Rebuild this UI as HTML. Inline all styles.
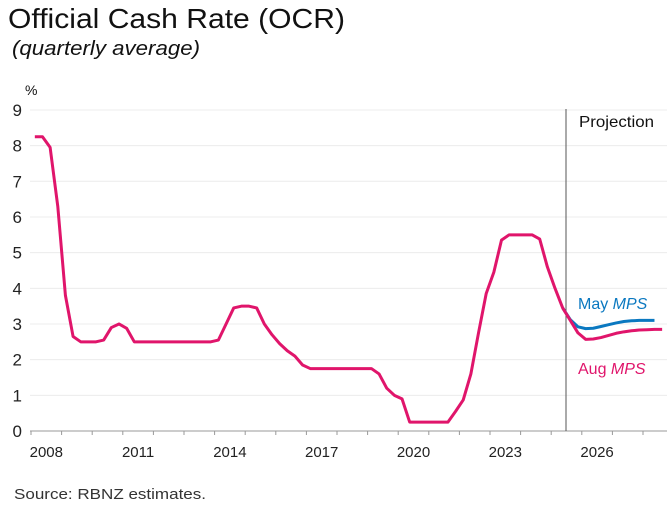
<!DOCTYPE html>
<html><head><meta charset="utf-8"><style>
body{margin:0;background:#fff;font-family:"Liberation Sans",sans-serif;}
</style></head><body>
<svg width="672" height="515" viewBox="0 0 672 515" xmlns="http://www.w3.org/2000/svg">
<text x="8" y="28" font-size="28" fill="#111" textLength="337" lengthAdjust="spacingAndGlyphs">Official Cash Rate (OCR)</text>
<text x="12" y="55" font-size="20" font-style="italic" fill="#111" textLength="188" lengthAdjust="spacingAndGlyphs">(quarterly average)</text>
<text x="25" y="95" font-size="14" fill="#111">%</text>
<g id="grid"></g><g id="xaxis"></g>
<line x1="566" y1="109" x2="566" y2="431" stroke="#555" stroke-width="1"/>
<text x="579" y="127" font-size="16" fill="#111" textLength="75" lengthAdjust="spacingAndGlyphs">Projection</text>
<g id="series"></g>
<text x="578" y="309" font-size="16" fill="#0a78c0">May <tspan font-style="italic">MPS</tspan></text>
<text x="578" y="374" font-size="16" fill="#e0156b">Aug <tspan font-style="italic">MPS</tspan></text>
<text x="14" y="499" font-size="15" fill="#333" textLength="192" lengthAdjust="spacingAndGlyphs">Source: RBNZ estimates.</text>
</svg>
<script>
const yTicks=[0,1,2,3,4,5,6,7,8,9];
const xLabels=[2008,2011,2014,2017,2020,2023,2026];
const augValues=[8.25,8.25,7.95,6.3, 3.8,2.65,2.5,2.5, 2.5,2.55,2.9,3.0, 2.88,2.5,2.5,2.5, 2.5,2.5,2.5,2.5, 2.5,2.5,2.5,2.5, 2.55,3.0,3.45,3.5, 3.5,3.45,3.0,2.7, 2.45,2.25,2.1,1.85, 1.75,1.75,1.75,1.75, 1.75,1.75,1.75,1.75, 1.75,1.6,1.2,1.0, 0.9,0.25,0.25,0.25, 0.25,0.25,0.25,0.55, 0.87,1.6,2.75,3.85, 4.45,5.35,5.5,5.5, 5.5,5.5,5.38,4.6, 4.0,3.45,3.1,2.75, 2.57,2.58,2.62,2.68, 2.74,2.78,2.81,2.83, 2.84,2.85,2.85];
const mayStart=69;
const mayValues=[3.45,3.12,2.92,2.87,2.88,2.93,2.98,3.03,3.07,3.09,3.1,3.1,3.1];
const NS="http://www.w3.org/2000/svg";
function yS(v){return 431-v*35.67;}
function xYear(y){return 31+(y-2008)*30.6;}
function xQ(q){return 31+(q+0.5)*30.6/4;}
function mk(t,a,p){const e=document.createElementNS(NS,t);for(const k in a)e.setAttribute(k,a[k]);p.appendChild(e);return e;}
const grid=document.getElementById('grid'),xa=document.getElementById('xaxis'),se=document.getElementById('series');
yTicks.forEach(v=>{
 if(v>0){const l=mk('line',{x1:30,x2:667,y1:yS(v),y2:yS(v),stroke:'#ececec','stroke-width':1},grid);
 
 }
 const t=mk('text',{x:22,y:yS(v)+6,'font-size':17,'text-anchor':'end',fill:'#222'},grid);
 t.textContent=v;
 
 
});
const ax=mk('line',{x1:30,x2:667,y1:431,y2:431,stroke:'#999','stroke-width':1},xa);


for(let y=2008;y<=2028;y++){const tk=mk('line',{x1:xYear(y),x2:xYear(y),y1:431,y2:435,stroke:'#999','stroke-width':1},xa);
 
 }
xLabels.forEach(y=>{const t=mk('text',{x:xYear(y+0.5),y:457,'font-size':15,'text-anchor':'middle',fill:'#222'},xa);
 t.textContent=y;
 
 });
const mayPts=mayValues.map((v,i)=>xQ(mayStart+i)+','+yS(v)).join(' ');
const may=mk('polyline',{points:mayPts,fill:'none',stroke:'#0a78c0','stroke-width':3,'stroke-linejoin':'round'},se);


const augPts=augValues.map((v,i)=>xQ(i)+','+yS(v)).join(' ');
const aug=mk('polyline',{points:augPts,fill:'none',stroke:'#e0156b','stroke-width':3,'stroke-linejoin':'round'},se);


</script>
</body></html>
